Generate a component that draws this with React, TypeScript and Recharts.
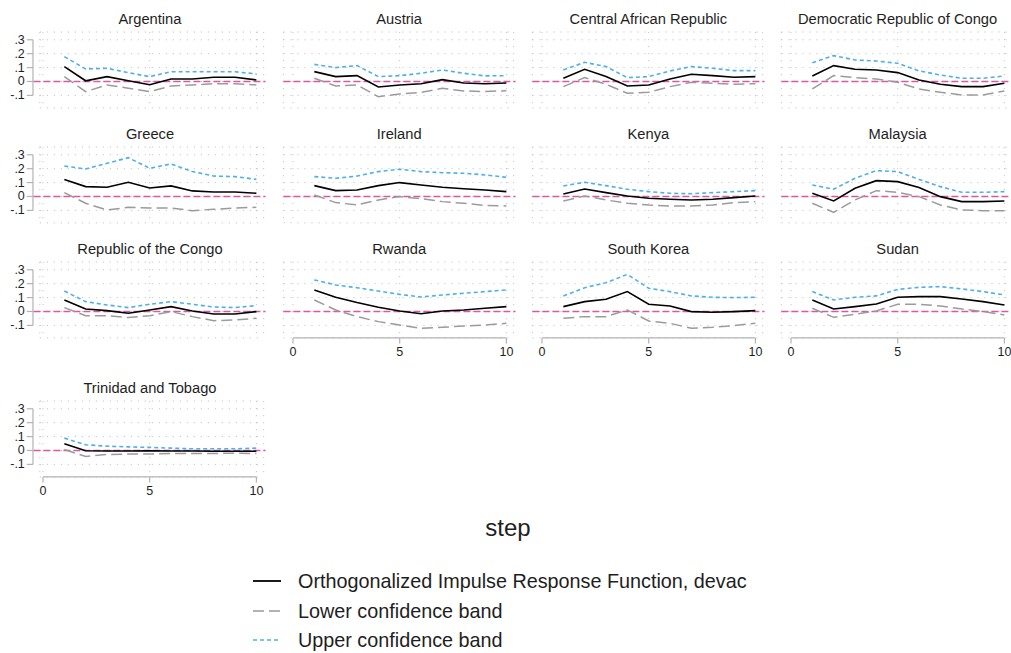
import React from "react";
import { LineChart, Line, XAxis, YAxis, CartesianGrid, ReferenceLine } from "recharts";

const countries = [
  "Argentina", "Austria", "Central African Republic", "Democratic Republic of Congo",
  "Greece", "Ireland", "Kenya", "Malaysia",
  "Republic of the Congo", "Rwanda", "South Korea", "Sudan",
  "Trinidad and Tobago",
];
const steps = [1, 2, 3, 4, 5, 6, 7, 8, 9, 10];
const xTicks = [0, 5, 10];
const yTicks = [-0.1, 0, 0.1, 0.2, 0.3];
const seriesNames = [
  "Orthogonalized Impulse Response Function, devac",
  "Lower confidence band",
  "Upper confidence band",
];

// orthogonalized IRF, one row per country (same order as countries)
const irf = [
  [0.107, 0.005, 0.035, 0.005, -0.023, 0.018, 0.018, 0.03, 0.03, 0.011],
  [0.071, 0.035, 0.042, -0.04, -0.025, -0.016, 0.013, -0.011, -0.016, -0.011],
  [0.023, 0.088, 0.035, -0.032, -0.025, 0.018, 0.052, 0.042, 0.03, 0.035],
  [0.04, 0.114, 0.088, 0.083, 0.064, 0.011, -0.02, -0.037, -0.037, -0.013],
  [0.123, 0.071, 0.066, 0.102, 0.061, 0.076, 0.04, 0.032, 0.032, 0.023],
  [0.078, 0.042, 0.047, 0.078, 0.1, 0.083, 0.066, 0.056, 0.047, 0.035],
  [0.018, 0.054, 0.028, 0.004, -0.013, -0.02, -0.025, -0.02, -0.008, 0.004],
  [0.023, -0.032, 0.059, 0.114, 0.107, 0.064, -0.001, -0.037, -0.037, -0.032],
  [0.083, 0.018, 0.006, -0.013, 0.011, 0.035, 0.004, -0.018, -0.018, -0.001],
  [0.155, 0.102, 0.064, 0.03, 0.004, -0.016, 0.004, 0.011, 0.023, 0.035],
  [0.035, 0.071, 0.088, 0.143, 0.052, 0.04, -0.001, -0.006, -0.001, 0.006],
  [0.083, 0.018, 0.035, 0.054, 0.102, 0.107, 0.107, 0.09, 0.071, 0.047],
  [0.048, -0.002, -0.004, -0.004, -0.003, -0.004, -0.004, -0.005, -0.005, -0.005],
];

// lower confidence band
const lower = [
  [0.035, -0.073, -0.025, -0.049, -0.073, -0.032, -0.025, -0.016, -0.016, -0.025],
  [0.023, -0.032, -0.025, -0.109, -0.09, -0.078, -0.049, -0.068, -0.073, -0.066],
  [-0.037, 0.028, -0.02, -0.085, -0.078, -0.037, -0.006, -0.013, -0.02, -0.016],
  [-0.054, 0.042, 0.028, 0.018, -0.006, -0.054, -0.078, -0.097, -0.097, -0.068],
  [0.028, -0.049, -0.097, -0.078, -0.083, -0.083, -0.102, -0.092, -0.083, -0.078],
  [0.011, -0.044, -0.061, -0.025, -0.001, -0.016, -0.037, -0.049, -0.064, -0.068],
  [-0.032, 0.004, -0.025, -0.049, -0.061, -0.068, -0.068, -0.061, -0.044, -0.037],
  [-0.049, -0.114, -0.025, 0.042, 0.03, -0.001, -0.061, -0.097, -0.102, -0.102],
  [0.028, -0.03, -0.03, -0.044, -0.03, -0.001, -0.037, -0.066, -0.061, -0.049],
  [0.083, 0.011, -0.037, -0.073, -0.097, -0.121, -0.114, -0.104, -0.097, -0.085],
  [-0.049, -0.037, -0.037, 0.011, -0.068, -0.085, -0.121, -0.114, -0.102, -0.085],
  [0.023, -0.042, -0.02, 0.004, 0.052, 0.052, 0.04, 0.018, -0.001, -0.025],
  [0.007, -0.043, -0.029, -0.026, -0.026, -0.022, -0.022, -0.022, -0.019, -0.022],
];

// upper confidence band
const upper = [
  [0.179, 0.09, 0.095, 0.063, 0.035, 0.07, 0.07, 0.07, 0.07, 0.054],
  [0.123, 0.1, 0.114, 0.035, 0.042, 0.059, 0.083, 0.059, 0.04, 0.042],
  [0.083, 0.138, 0.107, 0.028, 0.035, 0.076, 0.107, 0.095, 0.078, 0.078],
  [0.135, 0.186, 0.155, 0.147, 0.131, 0.076, 0.047, 0.023, 0.023, 0.04],
  [0.219, 0.198, 0.239, 0.279, 0.203, 0.234, 0.179, 0.147, 0.143, 0.123],
  [0.143, 0.131, 0.147, 0.179, 0.196, 0.179, 0.171, 0.167, 0.155, 0.138],
  [0.076, 0.102, 0.078, 0.052, 0.035, 0.023, 0.02, 0.028, 0.035, 0.042],
  [0.083, 0.052, 0.131, 0.186, 0.179, 0.123, 0.071, 0.03, 0.03, 0.035],
  [0.147, 0.071, 0.047, 0.028, 0.052, 0.071, 0.052, 0.032, 0.028, 0.042],
  [0.227, 0.191, 0.171, 0.147, 0.123, 0.104, 0.119, 0.131, 0.143, 0.155],
  [0.112, 0.171, 0.207, 0.267, 0.167, 0.143, 0.112, 0.102, 0.1, 0.102],
  [0.143, 0.083, 0.102, 0.112, 0.159, 0.174, 0.179, 0.162, 0.143, 0.119],
  [0.089, 0.041, 0.031, 0.026, 0.022, 0.017, 0.012, 0.012, 0.012, 0.017],
];

const FONT = "'Liberation Sans', Arial, Helvetica, sans-serif";
const AXIS = "#b3b3b3";
const GRID = "#c6c6c6";
const INK = "#1e1e1e";
const IRF_COLOR = "#000000";
const LOW_COLOR = "#9b9b9b";
const UP_COLOR = "#4fb0e6";
const ZERO_COLOR = "#d95aa2";

// layout (pixels)
const PX = 21.34; // px per step
const PY = 139; // px per unit of response
const colX0 = [43.3, 292.5, 541.7, 790.9];
const rowY0 = [81.5, 196.5, 311.5, 450];
const yMin = -0.19;
const yMax = 0.356;
const xMax = 10.34;

const fmtY = (v: number) => String(v).replace(/^(-?)0\./, "$1.");

const YTick = (props: any) => {
  const { x, y, payload } = props;
  return (
    <g>
      <line x1={x - 13} x2={x - 6.8} y1={y} y2={y} stroke={AXIS} strokeWidth={1.2} />
      <text x={x - 15} y={y} textAnchor="end" dominantBaseline="central" fontSize={12.5} fill={INK} fontFamily={FONT}>
        {fmtY(payload.value)}
      </text>
    </g>
  );
};

const XTick = (props: any) => {
  const { x, y, payload } = props;
  return (
    <g>
      <line x1={x} x2={x} y1={y} y2={y + 5.5} stroke={AXIS} strokeWidth={1.2} />
      <text x={x} y={y + 14} textAnchor="middle" dominantBaseline="central" fontSize={12.5} fill={INK} fontFamily={FONT}>
        {payload.value}
      </text>
    </g>
  );
};

function Panel({ index }: { index: number }) {
  const col = index % 4;
  const row = Math.floor(index / 4);
  const showY = col === 0;
  const showX = index >= 9;
  const X0 = colX0[col];
  const Y0 = rowY0[row];
  const xMin = showY ? -0.15 : -0.45;
  const plotLeft = 40 + xMin * PX;
  const width = 40 + xMax * PX + 6;
  const top = Y0 - yMax * PY - 5;
  const plotH = (yMax - yMin) * PY;
  const height = 5 + plotH + (showX ? 30 : 5);

  const data = steps.map((s, i) => ({
    step: s,
    irf: irf[index][i],
    lo: lower[index][i],
    hi: upper[index][i],
  }));

  return (
    <>
      <div
        style={{
          position: "absolute",
          left: X0 + 5 * PX - 125,
          top: Y0 - 62.5 - 9,
          width: 250,
          lineHeight: "18px",
          textAlign: "center",
          fontSize: 14.7,
          color: INK,
          fontFamily: FONT,
        }}
      >
        {countries[index]}
      </div>
      <div style={{ position: "absolute", left: X0 - 40, top }}>
        <LineChart
          width={width}
          height={height}
          data={data}
          margin={{
            top: 5,
            right: 6,
            left: showY ? plotLeft - 1 : plotLeft,
            bottom: showX ? 29 : 5,
          }}
        >
          <CartesianGrid stroke={GRID} strokeDasharray="1.2 5.8" />
          <XAxis
            dataKey="step"
            type="number"
            domain={[xMin, xMax]}
            allowDataOverflow
            ticks={xTicks}
            interval={0}
            hide={!showX}
            height={1}
            axisLine={false}
            tickLine={false}
            tickSize={0}
            tickMargin={0}
            tick={<XTick />}
          />
          <YAxis
            type="number"
            domain={[yMin, yMax]}
            allowDataOverflow
            ticks={yTicks}
            interval={0}
            hide={!showY}
            width={1}
            axisLine={false}
            tickLine={false}
            tickSize={0}
            tickMargin={0}
            tick={<YTick />}
          />
          <ReferenceLine
            segment={[{ x: -0.45, y: 0 }, { x: 10.43, y: 0 }]}
            stroke={ZERO_COLOR}
            strokeWidth={1.3}
            strokeDasharray="7 3"
            ifOverflow="visible"
          />
          {showY && (
            <ReferenceLine
              segment={[{ x: -0.47, y: -0.1 }, { x: -0.47, y: 0.3 }]}
              stroke={AXIS}
              strokeWidth={1.2}
              ifOverflow="visible"
            />
          )}
          {showX && (
            <ReferenceLine
              segment={[{ x: 0, y: yMin }, { x: 10, y: yMin }]}
              stroke={AXIS}
              strokeWidth={1.2}
              ifOverflow="visible"
            />
          )}
          <Line type="linear" dataKey="irf" stroke={IRF_COLOR} strokeWidth={1.6} dot={false} isAnimationActive={false} />
          <Line type="linear" dataKey="lo" stroke={LOW_COLOR} strokeWidth={1.5} strokeDasharray="11 5" dot={false} isAnimationActive={false} />
          <Line type="linear" dataKey="hi" stroke={UP_COLOR} strokeWidth={1.6} strokeDasharray="4 3" dot={false} isAnimationActive={false} />
        </LineChart>
      </div>
    </>
  );
}

const legendStyles = [
  { stroke: IRF_COLOR, dash: undefined, w: 1.8 },
  { stroke: LOW_COLOR, dash: "11 5", w: 1.6 },
  { stroke: UP_COLOR, dash: "4 3", w: 1.6 },
];
const legendRowY = [581, 610.5, 640];

export default function App() {
  return (
    <div
      style={{
        position: "absolute",
        left: 0,
        top: 0,
        width: 1011,
        height: 653,
        background: "#fff",
        fontFamily: FONT,
        overflow: "hidden",
      }}
    >
      {countries.map((_, i) => (
        <Panel key={i} index={i} />
      ))}
      <div
        style={{
          position: "absolute",
          left: 408,
          top: 528 - 14,
          width: 200,
          lineHeight: "28px",
          textAlign: "center",
          fontSize: 24,
          color: INK,
        }}
      >
        step
      </div>
      {seriesNames.map((name, i) => (
        <div key={name} style={{ position: "absolute", left: 250, top: legendRowY[i] - 12, height: 24, display: "flex", alignItems: "center" }}>
          <svg width={34} height={24} style={{ display: "block" }}>
            <line x1={3} x2={31} y1={12} y2={12} stroke={legendStyles[i].stroke} strokeWidth={legendStyles[i].w} strokeDasharray={legendStyles[i].dash} />
          </svg>
          <span style={{ marginLeft: 14, fontSize: 19.8, color: INK, lineHeight: "24px", whiteSpace: "nowrap" }}>{name}</span>
        </div>
      ))}
    </div>
  );
}
